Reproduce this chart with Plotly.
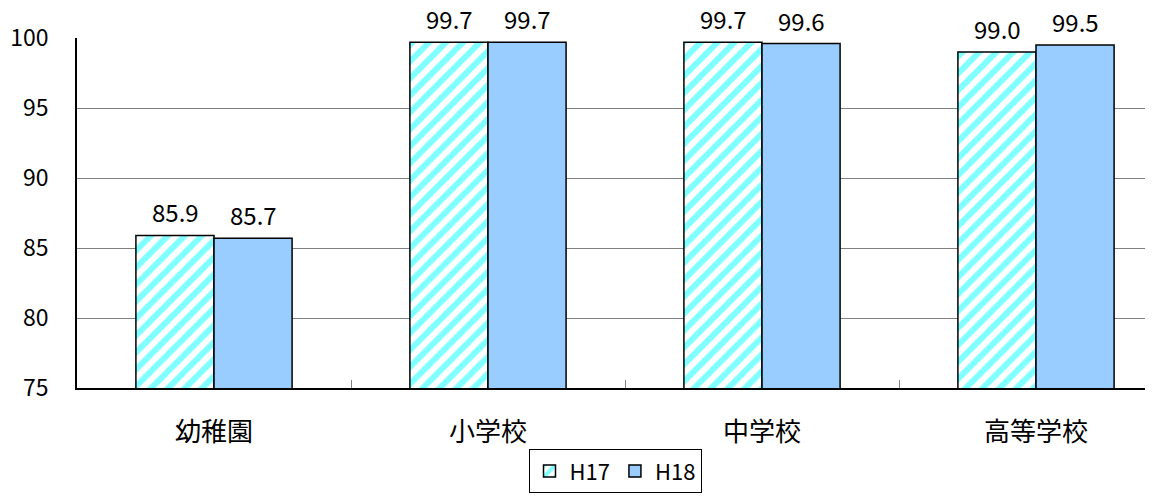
import plotly.graph_objects as go

categories = ["幼稚園", "小学校", "中学校", "高等学校"]
h17 = [85.9, 99.7, 99.7, 99.0]
h18 = [85.7, 99.7, 99.6, 99.5]
series_names = ["H17", "H18"]
y_ticks = [75, 80, 85, 90, 95, 100]

FONT = "Noto Sans CJK JP"

fig = go.Figure()
fig.add_trace(go.Bar(
    x=categories, y=h17, name=series_names[0],
    marker=dict(color="#FFFFFF", line=dict(color="#000000", width=1.5),
                pattern=dict(shape="/", fgcolor="#00FFFF", bgcolor="#FFFFFF",
                             size=12, solidity=0.5)),
))
fig.add_trace(go.Bar(
    x=categories, y=h18, name=series_names[1],
    marker=dict(color="#99CCFF", line=dict(color="#000000", width=1.5)),
))

annotations = []
for vals, shift in ((h17, -39), (h18, 39)):
    for c, v in zip(categories, vals):
        annotations.append(dict(
            x=c, y=v, xref="x", yref="y", text=f"{v:.1f}", showarrow=False,
            xshift=shift, yanchor="bottom", yshift=5, borderpad=0,
            font=dict(family=FONT, size=24, color="#000000"),
        ))

# page body has an 8px margin; figure is sized/margined to compensate
fig.update_layout(
    width=1145, height=488,
    margin=dict(l=69, r=0, t=30, b=108, autoexpand=False),
    paper_bgcolor="#FFFFFF", plot_bgcolor="#FFFFFF",
    barmode="group", bargap=0.43, bargroupgap=0,
    font=dict(family=FONT, size=24, color="#000000"),
    annotations=annotations,
    showlegend=True,
    legend=dict(orientation="h", x=0.5, xanchor="center", y=-0.175, yanchor="top",
                bordercolor="#000000", borderwidth=1, bgcolor="#FFFFFF",
                font=dict(family=FONT, size=22), itemwidth=30, traceorder="normal",
                tracegroupgap=0),
)
fig.update_xaxes(
    range=[-0.5, 3.427], showline=True, linecolor="#000000", linewidth=1.5,
    tickson="boundaries", ticks="inside", ticklen=8, tickcolor="#808080",
    showgrid=False, tickfont=dict(family=FONT, size=26), ticklabelstandoff=20,
)
fig.update_yaxes(
    range=[75, 100], tickvals=y_ticks, showline=True, linecolor="#000000", linewidth=1.5,
    ticks="inside", ticklen=8, tickcolor="#808080",
    showgrid=True, gridcolor="#808080", gridwidth=1,
    tickfont=dict(family=FONT, size=23), ticklabelstandoff=22,
)
fig.write_html("out.html")
